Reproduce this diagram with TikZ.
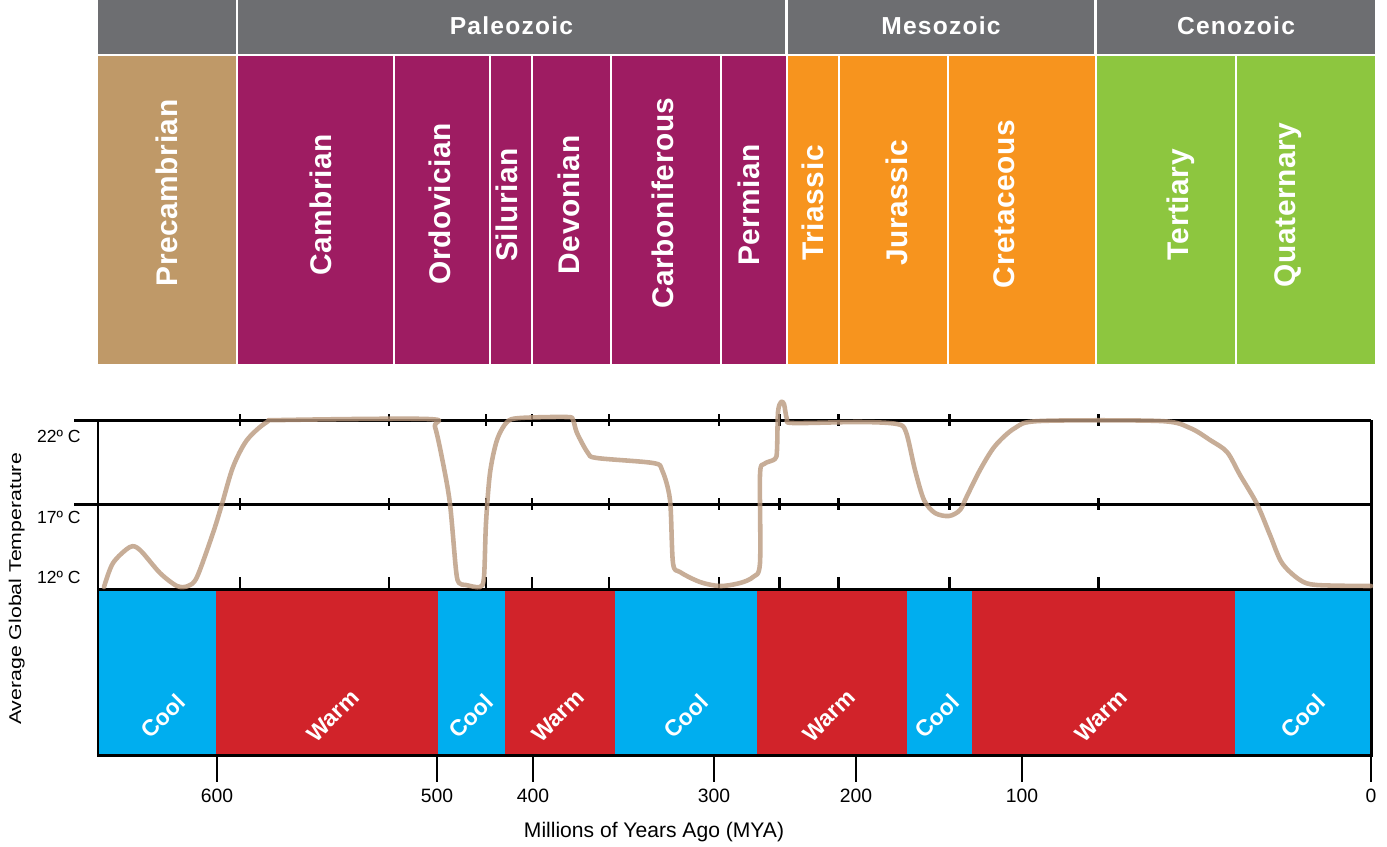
\documentclass[tikz,border=0pt]{standalone}
\usepackage{fontspec}
\setmainfont{Liberation Sans}
\usetikzlibrary{positioning}
\definecolor{eragray}{RGB}{109,110,113}
\definecolor{precam}{RGB}{191,153,104}
\definecolor{paleo}{RGB}{158,28,98}
\definecolor{meso}{RGB}{247,148,30}
\definecolor{ceno}{RGB}{141,198,63}
\definecolor{coolcol}{RGB}{0,174,239}
\definecolor{warmcol}{RGB}{209,35,42}
\definecolor{tempcol}{RGB}{185,152,125}
\newcommand{\fsz}[1]{\fontsize{#1}{#1}\selectfont}

\begin{document}
\begin{tikzpicture}[x=0.02cm,y=-0.02cm,
  eralabel/.style={anchor=base,text=white,font=\bfseries\fsz{14}\addfontfeature{LetterSpace=5}},
  periodlabel/.style={rotate=90,anchor=base,text=white,font=\bfseries\fsz{17}\addfontfeature{LetterSpace=2}},
  bandlabel/.style={rotate=45,text=white,font=\bfseries\fsz{13}},
  axislabel/.style={anchor=base,font=\fsz{11}},
  templabel/.style={anchor=base east,inner sep=0pt,font=\fsz{10}},
  chartline/.style={line width=1.7pt}]
  \useasboundingbox (0,0) rectangle (1387,846);

  % eras
  \fill[eragray] (98,0) rectangle (236,54);
  \foreach \xa/\xb/\name in {238/785/Paleozoic, 788/1094/Mesozoic, 1097/1375/Cenozoic} {
    \fill[eragray] (\xa,0) rectangle (\xb,54);
    \node[eralabel] (\name) at ({(\xa+\xb)/2},34) {\name};
  }

  % periods
  \foreach \xa/\xb/\col/\bx/\cy/\name in {
      98/236/precam/177/193/Precambrian, 238/393/paleo/331/205/Cambrian,
      395/489/paleo/450/204/Ordovician, 491/531/paleo/517/205/Silurian,
      533/610/paleo/579/205/Devonian, 612/720/paleo/673/203/Carboniferous,
      722/786/paleo/759/205/Permian, 788/838/meso/823/203/Triassic,
      840/947/meso/907/203/Jurassic, 949/1095/meso/1014/204/Cretaceous,
      1097/1235/ceno/1188/205/Tertiary, 1237/1375/ceno/1295/205/Quaternary} {
    \fill[\col] (\xa,56) rectangle (\xb,364);
    \node[periodlabel] (\name) at (\bx,\cy) {\name};
  }

  % cool and warm bands
  \foreach \xa/\xb/\col/\lab/\cx in {
      98/216/coolcol/Cool/163, 216/438/warmcol/Warm/333, 438/505/coolcol/Cool/471,
      505/615/warmcol/Warm/558, 615/757/coolcol/Cool/686, 757/907/warmcol/Warm/829,
      907/972/coolcol/Cool/937, 972/1235/warmcol/Warm/1101, 1235/1371/coolcol/Cool/1303} {
    \fill[\col] (\xa,589) rectangle (\xb,755);
    \node[bandlabel] (band\xa) at (\cx,716) {\lab};
  }

  % temperature grid
  \draw[chartline] (74,420) -- (1371,420);
  \draw[chartline] (74,504) -- (1371,504);
  \draw[chartline] (98,420) -- (98,589);
  \draw[chartline] (1371,420) -- (1371,589);
  \draw[chartline] (98,589) rectangle (1371,755);
  \foreach \x in {240,389,486,532,609,719,779,838,949,1098} {
    \draw[chartline] (\x,414) -- (\x,426);
    \draw[chartline] (\x,498) -- (\x,510);
    \draw[chartline] (\x,577) -- (\x,589);
  }
  \node[templabel] (t22) at (81,442) {22º C};
  \node[templabel] (t17) at (81,523) {17º C};
  \node[templabel] (t12) at (81,583) {12º C};
  \node[rotate=90,xscale=1.25,anchor=base,font=\fsz{9.7}] (ylab) at (21,589) {Average Global Temperature};

  % time axis
  \foreach \x/\yr in {217/600, 437/500, 533/400, 714/300, 856/200, 1022/100, 1371/0} {
    \draw[line width=1.1pt] (\x,755) -- (\x,782);
    \node[axislabel] (mya\yr) at (\x,802) {\yr};
  }
  \node[anchor=base,font=\fsz{12}] (xlab) at (654,837) {Millions of Years Ago (MYA)};

  % global temperature curve
  \draw[tempcol,opacity=0.8,line width=2.6pt,line join=round,line cap=round]
    plot[smooth,tension=0.5] coordinates {
      (104,587) (113,563) (130,547) (140,550) (160,573) (177,586) (188,586)
      (197,577) (213,533) (222,504) (233,467) (247,440) (267,422) (283,420)
      (428,419) (435,427) (443,463) (450,504) (456,570) (459,583) (466,585)
      (480,587) (484,577) (486,523) (490,473) (497,440) (507,422) (520,418)
      (567,417) (573,420) (577,433) (588,453) (597,458) (653,463) (662,470)
      (670,500) (673,563) (680,572) (700,582) (720,586) (740,583) (753,577)
      (760,563) (760,475) (764,464) (775,459) (777,450) (778,412) (781,402)
      (784,404) (787,419) (793,423) (860,422) (897,424) (906,432) (915,470)
      (924,500) (935,513) (949,516) (960,510) (967,496) (980,470) (995,446)
      (1015,428) (1040,421) (1160,421) (1190,428) (1210,440) (1227,452)
      (1240,475) (1257,504) (1270,535) (1282,563) (1300,580) (1317,585)
      (1371,586)};
\end{tikzpicture}
\end{document}
